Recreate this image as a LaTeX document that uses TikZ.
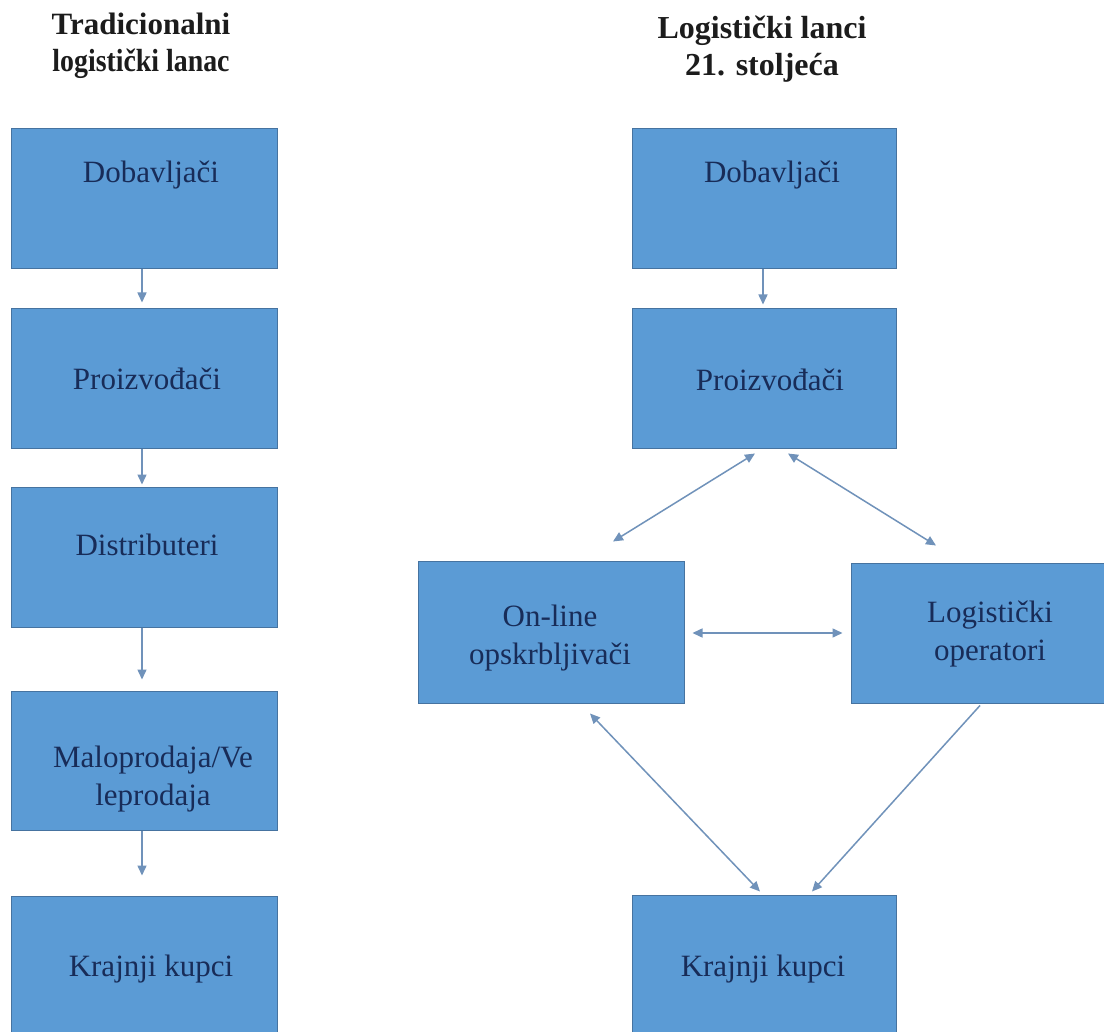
\documentclass[tikz,border=0pt]{standalone}
\usepackage{fontspec}
\setmainfont{Liberation Serif}
\usetikzlibrary{arrows.meta,calc}
\definecolor{boxfill}{RGB}{91,155,213}
\definecolor{boxline}{RGB}{70,115,160}
\definecolor{arr}{RGB}{112,146,186}
\definecolor{txt}{RGB}{24,44,88}
\definecolor{ttltxt}{RGB}{28,28,28}
\begin{document}
\begin{tikzpicture}[x=1pt,y=-1pt,
  box/.style={draw=boxline,line width=1pt,fill=boxfill,minimum width=266pt,minimum height=140pt,inner sep=0pt},
  lbl/.style={text=txt,font=\fontsize{31}{38}\selectfont,inner sep=0pt,align=center},
  ttl/.style={text=ttltxt,font=\bfseries\fontsize{31}{37}\selectfont,inner sep=0pt,align=center},
  conn/.style={draw=arr,line width=1.5pt},
  onetip/.style={-{Triangle[length=10pt,width=9pt]}},
  twotip/.style={{Triangle[length=10pt,width=9pt]}-{Triangle[length=10pt,width=9pt]}}
]
\useasboundingbox (0,0) rectangle (1104,1032);
\fill[white] (0,0) rectangle (1104,1032);

% titles
\node[ttl,anchor=base] (t1) at (141,35) {Tradicionalni};
\node[ttl,anchor=base] (t2) at (141,72) {\scalebox{0.87}[1]{\fontsize{32}{37}\selectfont logistički lanac}};
\node[ttl,font=\bfseries\fontsize{32}{37}\selectfont] (t3) at (762,49) {Logistički lanci\\21. stoljeća};

% left column
\node[box] (L1) at (144,199) {};
\node[box] (L2) at (144,379) {};
\node[box] (L3) at (144,557) {};
\node[box,minimum height=139pt] (L4) at (144,760.5) {};
\node[box,minimum height=144pt] (L5) at (144,968) {};

% right column
\node[box,minimum width=264pt] (R1) at (764,199) {};
\node[box,minimum width=264pt] (R2) at (764,379) {};
\node[box,minimum height=142pt] (R3) at (551,632) {};
\node[box] (R4) at (984,633) {};
\node[box,minimum width=264pt,minimum height=145pt] (R5) at (764,967.5) {};

% labels
\node[lbl,anchor=base] (lL1) at (151,183) {Dobavljači};
\node[lbl,anchor=base] (lL2) at (147,390) {Proizvođači};
\node[lbl,anchor=base] (lL3) at (147,555) {Distributeri};
\node[lbl] (lL4) at (153,779) {Maloprodaja/Ve\\leprodaja};
\node[lbl,anchor=base] (lL5) at (151,976) {Krajnji kupci};
\node[lbl,anchor=base] (lR1) at (772,183) {Dobavljači};
\node[lbl,anchor=base] (lR2) at (770,391) {Proizvođači};
\node[lbl] (lR3) at (550,638) {On-line\\opskrbljivači};
\node[lbl] (lR4) at (990,634) {Logistički\\operatori};
\node[lbl,anchor=base] (lR5) at (763,976) {Krajnji kupci};

% left arrows
\draw[conn,onetip,shorten >=6pt] ([xshift=-2pt]L1.south) -- ([xshift=-2pt]L2.north);
\draw[conn,onetip,shorten >=2pt] ([xshift=-2pt]L2.south) -- ([xshift=-2pt]L3.north);
\draw[conn,onetip,shorten >=11pt] ([xshift=-2pt]L3.south) -- ([xshift=-2pt]L4.north);
\draw[conn,onetip,shorten >=20pt] ([xshift=-2pt]L4.south) -- ([xshift=-2pt]L5.north);

% right arrows
\draw[conn,onetip,shorten >=4pt] ([xshift=-1pt]R1.south) -- ([xshift=-1pt]R2.north);

\coordinate (d1a) at ($(R2.south)+(-9,4)$);
\coordinate (d1b) at ($(R3.north)+(62,-19)$);
\coordinate (d2a) at ($(R2.south)+(24,4)$);
\coordinate (d2b) at ($(R4.north)+(-48,-17)$);
\coordinate (h1a) at ($(R3.east)+(8,1)$);
\coordinate (h1b) at ($(R4.west)+(-8,0)$);
\coordinate (d4a) at ($(R3.south)+(39,10)$);
\coordinate (d4b) at ($(R5.north)+(-4,-3)$);
\coordinate (d5a) at ($(R4.south)+(-4,2)$);
\coordinate (d5b) at ($(R5.north)+(48,-3)$);

\draw[conn,twotip] (d1a) -- (d1b);
\draw[conn,twotip] (d2a) -- (d2b);
\draw[conn,twotip] (h1a) -- (h1b);
\draw[conn,twotip] (d4a) -- (d4b);
\draw[conn,onetip] (d5a) -- (d5b);
\end{tikzpicture}
\end{document}
